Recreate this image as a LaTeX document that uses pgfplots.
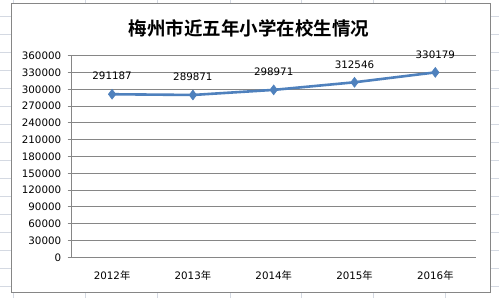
\documentclass[border=0pt]{standalone}
\usepackage{pgfplots}
\pgfplotsset{compat=1.18}
\usepackage{fontspec}
\setmainfont{DejaVu Sans}
\newfontfamily\cjk{Noto Sans CJK SC}
\newfontfamily\cjkb{Noto Sans CJK SC Bold}
\definecolor{cellline}{HTML}{D4D9E2}
\definecolor{framegray}{HTML}{868686}
\definecolor{gridgray}{HTML}{868686}
\definecolor{serblue}{HTML}{4F81BD}
\begin{document}
\begin{tikzpicture}[x=1bp,y=1bp]
\useasboundingbox (0,0) rectangle (499,298);
\fill[white] (0,0) rectangle (499,298);
% spreadsheet cell lines
\foreach \yy in {16,34,...,286} {
  \draw[cellline,line width=0.8bp] (0,298-\yy) -- (499,298-\yy);
}
\foreach \xx in {13,85.5,157.5,230,301.7,373,445} {
  \draw[cellline,line width=0.8bp] (\xx,0) -- (\xx,298);
}
% chart frame
\filldraw[fill=white,draw=framegray,line width=1bp] (11,5.3) rectangle (490.7,294);
\node[font=\cjkb\fontsize{18.5bp}{20bp}\selectfont] at (249,270) {梅州市近五年小学在校生情况};
\begin{axis}[
  at={(71.7bp,40.7bp)}, anchor=south west,
  scale only axis, width=404bp, height=201.6bp,
  xmin=-0.5, xmax=4.5, ymin=0, ymax=360000,
  axis lines*=left,
  x axis line style={-,draw=gridgray,line width=1bp},
  y axis line style={-,draw=gridgray,line width=1bp},
  ytick distance=30000,
  ymajorgrids,
  grid style={draw=gridgray,line width=1bp},
  tick align=outside,
  major tick length=4bp,
  tick style={draw=gridgray,line width=1bp},
  scaled y ticks=false,
  /pgf/number format/assume math mode=true,
  yticklabel={\pgfmathprintnumber[fixed,precision=0,set thousands separator={}]{\tick}},
  yticklabel style={font=\fontsize{10.3bp}{12bp}\selectfont,anchor=east,xshift=-3bp},
  xtick={0,1,2,3,4},
  xticklabels={2012{\cjk 年},2013{\cjk 年},2014{\cjk 年},2015{\cjk 年},2016{\cjk 年}},
  xticklabel style={font=\fontsize{10.3bp}{12bp}\selectfont,anchor=center,yshift=-14bp},
  x tick style={draw=none},
  extra x ticks={-0.5,0.5,1.5,2.5,3.5,4.5},
  extra x tick labels={},
  extra x tick style={tick style={draw=gridgray,line width=1bp}, grid=none},
  clip=false,
]
\addplot[color=serblue,line width=2.6bp,mark=diamond*,mark size=5bp,
  mark options={fill=serblue,draw=serblue,line width=0.5bp},
  nodes near coords,
  every node near coord/.append style={font=\fontsize{10.3bp}{12bp}\selectfont,text=black,anchor=center,yshift=18bp},
  point meta=explicit symbolic]
coordinates {
  (0,291187) [291187]
  (1,289871) [289871]
  (2,298971) [298971]
  (3,312546) [312546]
  (4,330179) [330179]
};
\end{axis}
\end{tikzpicture}
\end{document}
